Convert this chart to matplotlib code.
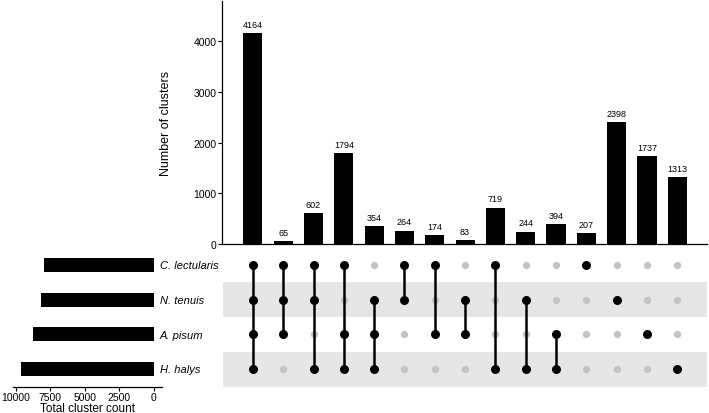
import numpy as np
import matplotlib.pyplot as plt

plt.rcParams['font.family'] = ['Liberation Sans', 'DejaVu Sans']

# === data ===
species = ["C. lectularis", "N. tenuis", "A. pisum", "H. halys"]
counts = [4164, 65, 602, 1794, 354, 264, 174, 83, 719, 244, 394, 207, 2398, 1737, 1313]
# membership per intersection: C, N, A, H
membership = [
    [1, 1, 1, 1],
    [1, 1, 1, 0],
    [1, 1, 0, 1],
    [1, 0, 1, 1],
    [0, 1, 1, 1],
    [1, 1, 0, 0],
    [1, 0, 1, 0],
    [0, 1, 1, 0],
    [1, 0, 0, 1],
    [0, 1, 0, 1],
    [0, 0, 1, 1],
    [1, 0, 0, 0],
    [0, 1, 0, 0],
    [0, 0, 1, 0],
    [0, 0, 0, 1],
]

counts = np.array(counts)
membership = np.array(membership)
totals = (membership * counts[:, None]).sum(axis=0)
n = len(counts)
x = np.arange(n)

W, H = 709, 414
fig = plt.figure(figsize=(W / 100, H / 100), dpi=100)

def px_axes(x0, y0, x1, y1):
    # pixel box (top-left origin) -> figure fraction
    return fig.add_axes([x0 / W, 1 - y1 / H, (x1 - x0) / W, (y1 - y0) / H])

# === intersection bars ===
ax = px_axes(222, 2, 707, 245)
ax.bar(x, counts, width=0.63, color='black')
for xi, c in zip(x, counts):
    ax.annotate(str(c), (xi, c), xytext=(0, 3), textcoords='offset points',
                ha='center', va='bottom', fontsize=6.5)
ax.set_xlim(-1.02, 14.98)
ax.set_ylim(0, 4790)
ax.set_yticks([0, 1000, 2000, 3000, 4000])
ax.tick_params(axis='y', labelsize=7.5, length=3, width=0.8, pad=1)
ax.set_xticks([])
for s in ['top', 'right']:
    ax.spines[s].set_visible(False)
ax.spines['left'].set_linewidth(0.9)
ax.spines['bottom'].set_linewidth(0.9)
ax.set_ylabel("Number of clusters", fontsize=9, labelpad=15)

# === matrix ===
mx = px_axes(222, 248.5, 707, 387.5)
for r in range(len(species)):
    if r % 2 == 1:
        mx.axhspan(r - 0.5, r + 0.5, xmin=0.002, color='#e6e6e6', lw=0, zorder=0)
for i in range(n):
    rows = np.where(membership[i] == 1)[0]
    off = np.where(membership[i] == 0)[0]
    mx.scatter(np.full(len(off), i), off, s=28, color='#c4c4c4', lw=0, zorder=2)
    if len(rows) > 1:
        mx.plot([i, i], [rows.min(), rows.max()], color='black', lw=1.8, zorder=3)
    mx.scatter(np.full(len(rows), i), rows, s=42, color='black', lw=0, zorder=4)
mx.set_xlim(-1.02, 14.98)
mx.set_ylim(3.5, -0.5)
mx.axis('off')

# === totals ===
tx = px_axes(13, 248.5, 162, 387.5)
tx.barh(np.arange(len(species)), totals, height=0.4, color='black')
tx.set_xlim(10200, -600)
tx.set_ylim(3.5, -0.5)
tx.set_xticks([10000, 7500, 5000, 2500, 0])
tx.tick_params(axis='x', labelsize=7.5, length=3, width=0.8, pad=1)
tx.set_yticks([])
for s in ['top', 'right', 'left']:
    tx.spines[s].set_visible(False)
tx.spines['bottom'].set_linewidth(0.9)
tx.set_xlabel("Total cluster count", fontsize=8.5, labelpad=0)

for r, name in enumerate(species):
    fig.text(160 / W, 1 - (266 + r * 34.8) / H, name, fontsize=8, style='italic',
             ha='left', va='center')

fig.savefig("out.png", dpi=100)
